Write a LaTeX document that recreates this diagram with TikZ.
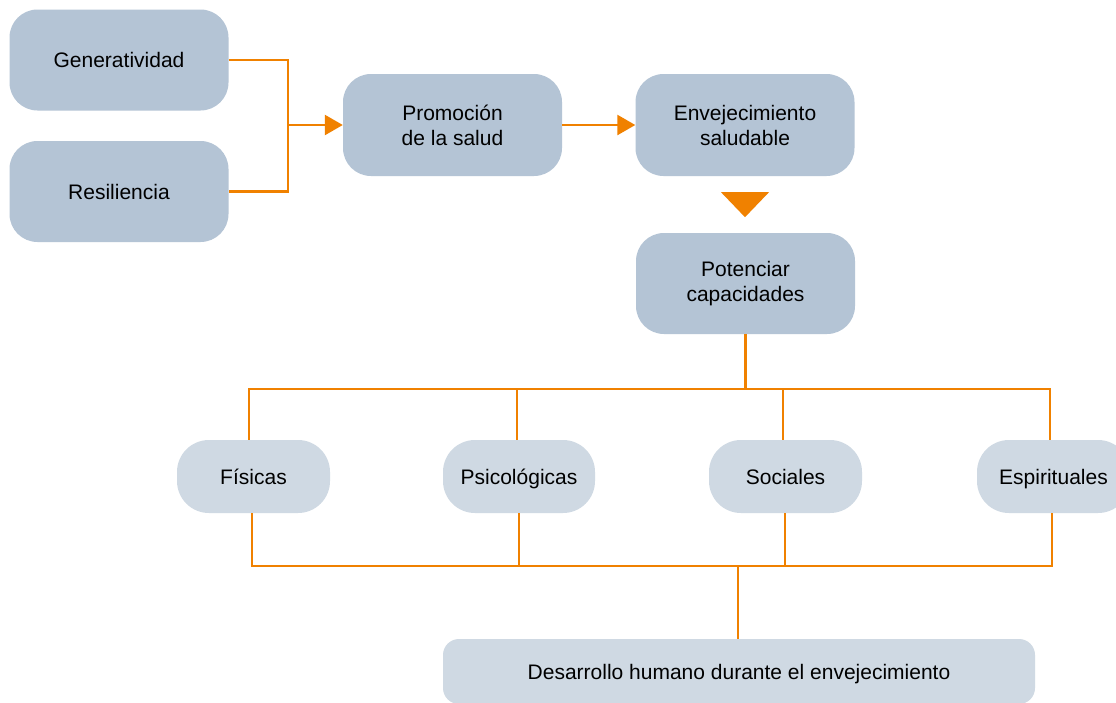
\documentclass[tikz,border=0pt]{standalone}
\usepackage{fontspec}
\setmainfont{Liberation Sans}
\usetikzlibrary{arrows.meta,calc}
\definecolor{boxdark}{HTML}{B4C4D5}
\definecolor{boxlight}{HTML}{CFD9E3}
\definecolor{orng}{HTML}{F08100}
\tikzset{
  darkbox/.style={fill=boxdark, draw=none, rounded corners=28pt, minimum width=219pt, minimum height=101pt, align=center, inner sep=0pt, font=\fontsize{21}{25}\selectfont},
  lightbox/.style={fill=boxlight, draw=none, rounded corners=32pt, minimum width=153pt, minimum height=73pt, inner sep=0pt, text height=15pt, text depth=0pt, font=\fontsize{21}{25}\selectfont},
  oneline/.style={text height=15pt, text depth=0pt},
  conn/.style={draw=orng, line width=2.5pt},
  arr/.style={conn, -{Triangle[length=18pt,width=20pt]}},
}
\begin{document}
\begin{tikzpicture}[x=1pt,y=-1pt]
\clip (0,0) rectangle (1116,702);
\fill[white] (0,0) rectangle (1116,702);
\node[darkbox, oneline] (gen) at (119,60) {Generatividad};
\node[darkbox, oneline] (res) at (119,191.5) {Resiliencia};
\node[darkbox, minimum height=102pt] (prom) at (452.5,125) {Promoción\\de la salud};
\node[darkbox, minimum height=102pt] (env) at (745,125) {Envejecimiento\\saludable};
\node[darkbox] (pot) at (745.5,283.5) {Potenciar\\capacidades};
\node[lightbox] (fis) at (253.5,476.5) {Físicas};
\node[lightbox, minimum width=152pt] (psi) at (519,476.5) {Psicológicas};
\node[lightbox] (soc) at (785.5,476.5) {Sociales};
\node[lightbox] (esp) at (1053.5,476.5) {Espirituales};
\node[fill=boxlight, rounded corners=16pt, minimum width=592pt, minimum height=65pt, inner sep=0pt, oneline, font=\fontsize{21}{25}\selectfont] (des) at (739,671.5) {Desarrollo humano durante el envejecimiento};
% top-left connectors
\coordinate (j) at ($(prom.west)+(-55,0)$);
\draw[conn] (gen.east) -| (j) |- (res.east);
\draw[arr] (j) -- (prom.west);
\draw[arr] (prom.east) -- (env.west);
% triangle
\fill[orng] ($(env.south)+(-24,16)$) -- ($(env.south)+(24,16)$) -- ($(env.south)+(0,41)$) -- cycle;
% top bus
\coordinate (b1) at ($(pot.south)+(0,55)$);
\draw[conn] (pot.south) -- (b1);
\draw[conn] ([xshift=-4.5pt]fis.north) |- (b1) -| ([xshift=-3.5pt]esp.north);
\draw[conn] ([xshift=-2pt]psi.north) -- ([xshift=-2pt]psi.north |- b1);
\draw[conn] ([xshift=-2.5pt]soc.north) -- ([xshift=-2.5pt]soc.north |- b1);
% bottom bus
\coordinate (b2) at ($(des.north)+(-1,-73)$);
\draw[conn] ([xshift=-1.5pt]fis.south) |- (b2) -| ([xshift=-1.5pt]esp.south);
\draw[conn] (psi.south) -- (psi.south |- b2);
\draw[conn] ([xshift=-0.5pt]soc.south) -- ([xshift=-0.5pt]soc.south |- b2);
\draw[conn] (b2) -- (b2 |- des.north);
\end{tikzpicture}
\end{document}
